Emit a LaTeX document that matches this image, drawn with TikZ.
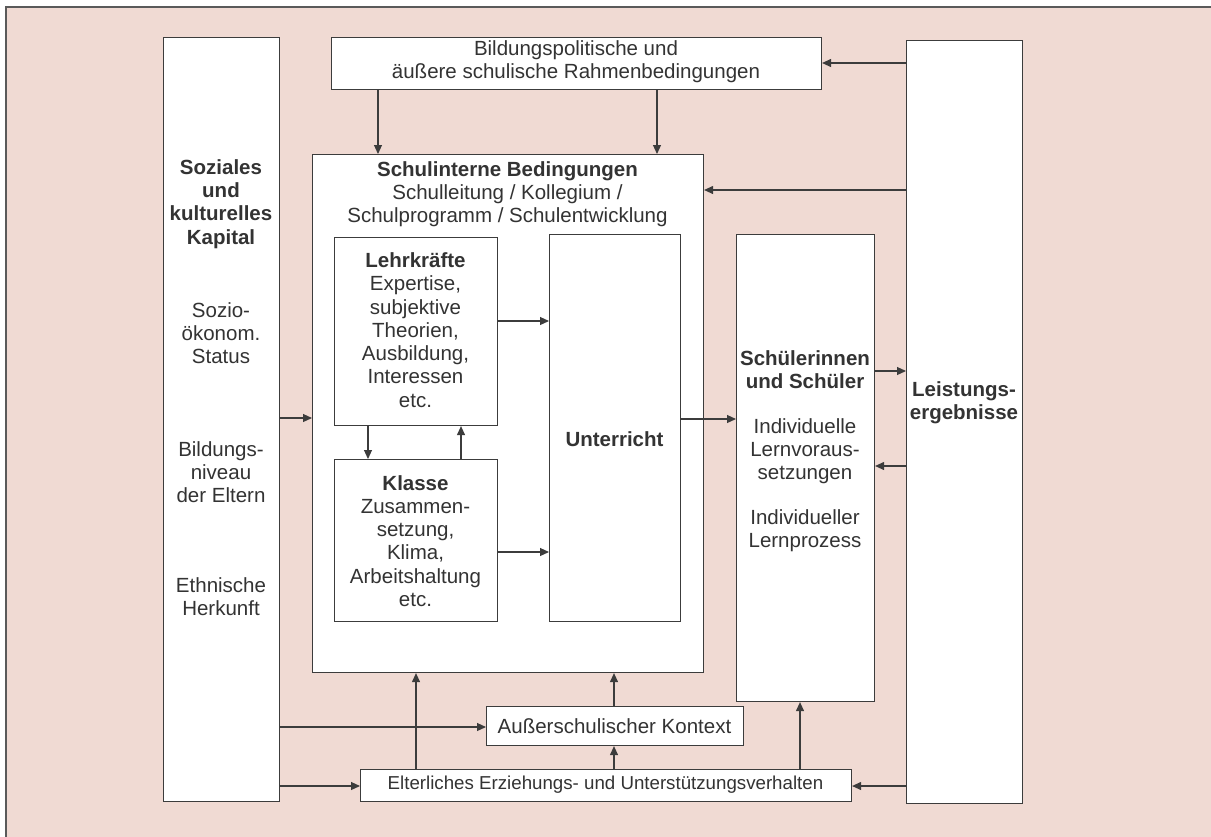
\documentclass[tikz,border=0pt]{standalone}
\usepackage{fontspec}
\setmainfont{Liberation Sans}
\usetikzlibrary{arrows.meta}
\definecolor{bgpink}{HTML}{F0DAD3}
\definecolor{ln}{HTML}{3C3C3C}
\definecolor{tx}{HTML}{333333}
\definecolor{frame}{HTML}{5A5A5A}
\begin{document}
\begin{tikzpicture}[x=1pt,y=-1pt,
  box/.style={draw=ln, line width=1.1pt, fill=white, anchor=north west, inner sep=0pt},
  txt/.style={text=tx, align=center, inner sep=0pt, font=\fontsize{20.5}{23.3}\selectfont},
  smalltxt/.style={text=tx, align=center, inner sep=0pt, font=\fontsize{18.7}{22}\selectfont},
  arr/.style={draw=ln, line width=1.1pt, -{Triangle[length=9pt,width=8pt]}}]
\useasboundingbox (0,0) rectangle (1211,836);
\fill[white] (0,0) rectangle (1211,836);
\draw[fill=bgpink, draw=frame, line width=1.2pt] (6,7) rectangle (1240,860);

% boxes
\node[box, minimum width=116pt, minimum height=764pt] (soz) at (163,37) {};
\node[box, minimum width=490pt, minimum height=52pt] (pol) at (331,37) {};
\node[box, minimum width=116pt, minimum height=763pt] (leist) at (906,40) {};
\node[box, minimum width=391pt, minimum height=518pt] (si) at (312,154) {};
\node[box, minimum width=163pt, minimum height=188pt] (lk) at (334,237) {};
\node[box, minimum width=163pt, minimum height=162pt] (kl) at (334,459) {};
\node[box, minimum width=131pt, minimum height=387pt] (unt) at (549,234) {};
\node[box, minimum width=138pt, minimum height=467pt] (sch) at (736,234) {};
\node[box, minimum width=257pt, minimum height=39pt] (aus) at (486,706) {};
\node[box, minimum width=491pt, minimum height=32pt] (elt) at (360,769) {};

% texts
\node[txt] (polt) at (576,62) {Bildungspolitische und\\äußere schulische Rahmenbedingungen};
\node[txt, font=\bfseries\fontsize{20.5}{23.3}\selectfont] (sozt) at (221,204) {Soziales\\und\\kulturelles\\Kapital};
\node[txt] (sozt1) at (221,333) {Sozio-\\ökonom.\\Status};
\node[txt] (sozt2) at (221,472) {Bildungs-\\niveau\\der Eltern};
\node[txt] (sozt3) at (221,597) {Ethnische\\Herkunft};
\node[txt, font=\bfseries\fontsize{20.5}{23.3}\selectfont] (leistt) at (964,403) {Leistungs-\\ergebnisse};
\node[txt] (sit) at (507.5,194) {\textbf{Schulinterne Bedingungen}\\Schulleitung / Kollegium /\\Schulprogramm / Schulentwicklung};
\node[txt] (lkt) at (415.5,330) {\textbf{Lehrkräfte}\\Expertise,\\subjektive\\Theorien,\\Ausbildung,\\Interessen\\etc.};
\node[txt] (klt) at (415.5,541) {\textbf{Klasse}\\Zusammen-\\setzung,\\Klima,\\Arbeitshaltung\\etc.};
\node[txt, font=\bfseries\fontsize{20.5}{23.3}\selectfont] (untt) at (614.5,439) {Unterricht};
\node[txt, font=\bfseries\fontsize{20.5}{23.3}\selectfont] (scht1) at (805,370) {Schülerinnen\\und Schüler};
\node[txt] (scht2) at (805,451) {Individuelle\\Lernvoraus-\\setzungen};
\node[txt] (scht3) at (805,531) {Individueller\\Lernprozess};
\node[txt] (aust) at (614.5,726) {Außerschulischer Kontext};
\node[smalltxt] (eltt) at (605.5,785) {Elterliches Erziehungs- und Unterstützungsverhalten};

% connectors
\draw[arr] (lk.east |- 0,321) -- (unt.west |- 0,321);
\draw[arr] (kl.east |- 0,552) -- (unt.west |- 0,552);
\draw[arr] (lk.south -| 368,0) -- (kl.north -| 368,0);
\draw[arr] (kl.north -| 461,0) -- (lk.south -| 461,0);
\draw[arr] (soz.east |- 0,418) -- (si.west |- 0,418);
\draw[arr] (pol.south -| 378,0) -- (si.north -| 378,0);
\draw[arr] (pol.south -| 657,0) -- (si.north -| 657,0);
\draw[arr] (leist.west |- 0,63) -- (pol.east |- 0,63);
\draw[arr] (leist.west |- 0,190) -- (si.east |- 0,190);
\draw[arr] (unt.east |- 0,419) -- (sch.west |- 0,419);
\draw[arr] (sch.east |- 0,371) -- (leist.west |- 0,371);
\draw[arr] (leist.west |- 0,466) -- (sch.east |- 0,466);
\draw[arr] (soz.east |- 0,727) -- (aus.west |- 0,727);
\draw[arr] (soz.east |- 0,786) -- (elt.west |- 0,786);
\draw[arr] (elt.north -| 416,0) -- (si.south -| 416,0);
\draw[arr] (elt.north -| 614,0) -- (aus.south -| 614,0);
\draw[arr] (aus.north -| 614,0) -- (si.south -| 614,0);
\draw[arr] (elt.north -| 800,0) -- (sch.south -| 800,0);
\draw[arr] (leist.west |- 0,786) -- (elt.east |- 0,786);
\end{tikzpicture}
\end{document}
